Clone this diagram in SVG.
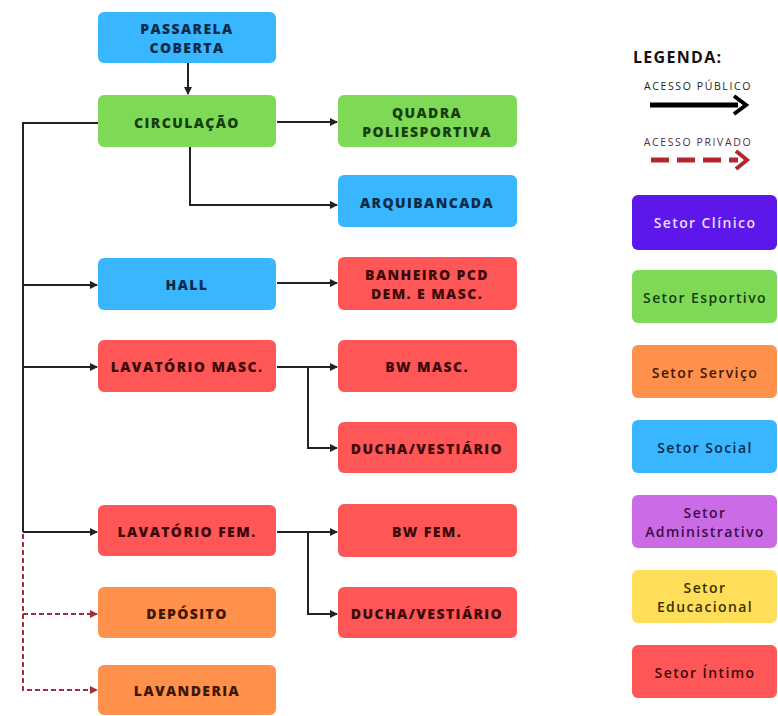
<svg xmlns="http://www.w3.org/2000/svg" width="778" height="716" viewBox="0 0 778 716">
<style>
.n{font-family:"Open Sans","Liberation Sans",sans-serif;font-weight:800;font-size:14px;letter-spacing:1.4px;text-anchor:middle;dominant-baseline:central}
.l{font-family:"Open Sans","Liberation Sans",sans-serif;font-size:14px;letter-spacing:1.4px;text-anchor:middle;dominant-baseline:central;font-weight:600}
.blue{fill:#38b6ff}.green{fill:#7ed957}.red{fill:#ff5757}.orange{fill:#ff914d}.purple{fill:#5e17eb}.violet{fill:#cb6ce6}.yellow{fill:#ffde59}
.tb{fill:#0b2a45}.tg{fill:#173d0c}.tr{fill:#3d0808}.to{fill:#3d1805}
.c{fill:none;stroke:#222;stroke-width:2}
.d{fill:none;stroke:#a3303f;stroke-width:2;stroke-dasharray:5 3}
.s{font-family:"Open Sans","Liberation Sans",sans-serif;font-size:10.5px;letter-spacing:1.6px;text-anchor:middle;dominant-baseline:central}
</style>
<defs>
<marker id="a" markerWidth="8" markerHeight="8" refX="7" refY="4" orient="auto" markerUnits="userSpaceOnUse"><path d="M0,0 L8,4 L0,8 z" fill="#222"/></marker>
<marker id="ad" markerWidth="8" markerHeight="8" refX="7" refY="4" orient="auto" markerUnits="userSpaceOnUse"><path d="M0,0 L8,4 L0,8 z" fill="#a3303f"/></marker>
</defs>
<rect width="778" height="716" fill="#fff"/>
<g id="connectors">
<path class="c" d="M188,63 V94" marker-end="url(#a)"/>
<path class="c" d="M98,123 H23 V532"/>
<path class="c" d="M277,122 H337" marker-end="url(#a)"/>
<path class="c" d="M190,147 V205 H337" marker-end="url(#a)"/>
<path class="c" d="M23,285 H97" marker-end="url(#a)"/>
<path class="c" d="M277,283 H337" marker-end="url(#a)"/>
<path class="c" d="M23,367 H97" marker-end="url(#a)"/>
<path class="c" d="M277,367 H337" marker-end="url(#a)"/>
<path class="c" d="M308,367 V448 H337" marker-end="url(#a)"/>
<path class="c" d="M23,532 H97" marker-end="url(#a)"/>
<path class="c" d="M277,532 H337" marker-end="url(#a)"/>
<path class="c" d="M308,532 V614 H337" marker-end="url(#a)"/>
<path class="d" d="M23,534 V690 H97" marker-end="url(#ad)"/>
<path class="d" d="M23,614 H97" marker-end="url(#ad)"/>
</g>
<g id="passarela"><rect class="blue" x="98" y="12" width="178" height="51" rx="6"/><text class="n tb" x="187" y="28">PASSARELA</text><text class="n tb" x="187" y="47">COBERTA</text></g>
<g id="circulacao"><rect class="green" x="98" y="95" width="178" height="52" rx="6"/><text class="n tg" x="187" y="122">CIRCULAÇÃO</text></g>
<g id="quadra"><rect class="green" x="338" y="95" width="179" height="52" rx="6"/><text class="n tg" x="427" y="112">QUADRA</text><text class="n tg" x="427" y="131">POLIESPORTIVA</text></g>
<g id="arquibancada"><rect class="blue" x="338" y="175" width="179" height="52" rx="6"/><text class="n tb" x="427" y="202">ARQUIBANCADA</text></g>
<g id="hall"><rect class="blue" x="98" y="258" width="178" height="52" rx="6"/><text class="n tb" x="187" y="284">HALL</text></g>
<g id="banheiro"><rect class="red" x="338" y="257" width="179" height="53" rx="6"/><text class="n tr" x="427" y="274">BANHEIRO PCD</text><text class="n tr" x="427" y="293">DEM. E MASC.</text></g>
<g id="lav-masc"><rect class="red" x="98" y="340" width="178" height="52" rx="6"/><text class="n tr" x="187" y="366" letter-spacing="0.6">LAVATÓRIO MASC.</text></g>
<g id="bw-masc"><rect class="red" x="338" y="340" width="179" height="52" rx="6"/><text class="n tr" x="427" y="366">BW MASC.</text></g>
<g id="ducha-masc"><rect class="red" x="338" y="422" width="179" height="51" rx="6"/><text class="n tr" x="427" y="448" letter-spacing="0.6">DUCHA/VESTIÁRIO</text></g>
<g id="lav-fem"><rect class="red" x="98" y="505" width="178" height="51" rx="6"/><text class="n tr" x="187" y="531">LAVATÓRIO FEM.</text></g>
<g id="bw-fem"><rect class="red" x="338" y="504" width="179" height="53" rx="6"/><text class="n tr" x="427" y="531">BW FEM.</text></g>
<g id="deposito"><rect class="orange" x="98" y="587" width="178" height="51" rx="6"/><text class="n to" x="187" y="613">DEPÓSITO</text></g>
<g id="ducha-fem"><rect class="red" x="338" y="587" width="179" height="51" rx="6"/><text class="n tr" x="427" y="613" letter-spacing="0.6">DUCHA/VESTIÁRIO</text></g>
<g id="lavanderia"><rect class="orange" x="98" y="665" width="178" height="50" rx="6"/><text class="n to" x="187" y="690">LAVANDERIA</text></g>
<g id="legenda">
<text x="633" y="57" font-family="'Open Sans','Liberation Sans',sans-serif" font-weight="bold" font-size="16" letter-spacing="1.3" fill="#111" dominant-baseline="central">LEGENDA:</text>
<text class="s" x="698" y="86" fill="#222">ACESSO PÚBLICO</text>
<path d="M650,105 H738" stroke="#000" stroke-width="5" fill="none"/>
<path d="M734,96 L746,105 L734,114" stroke="#000" stroke-width="4" fill="none" stroke-linejoin="miter"/>
<text class="s" x="698" y="142" fill="#553040">ACESSO PRIVADO</text>
<path d="M651,160 H738" stroke="#b3282d" stroke-width="5" fill="none" stroke-dasharray="18 8"/>
<path d="M736,151 L747,160 L736,169" stroke="#b3282d" stroke-width="4" fill="none"/>
</g>
<g id="setor-clinico"><rect class="purple" x="632" y="195" width="145" height="55" rx="6"/><text class="l" fill="#e8dcff" x="705" y="222">Setor Clínico</text></g>
<g id="setor-esportivo"><rect class="green" x="632" y="270" width="145" height="53" rx="6"/><text class="l tg" x="705" y="297" letter-spacing="0.6">Setor Esportivo</text></g>
<g id="setor-servico"><rect class="orange" x="632" y="345" width="145" height="53" rx="6"/><text class="l to" x="705" y="372">Setor Serviço</text></g>
<g id="setor-social"><rect class="blue" x="632" y="420" width="145" height="53" rx="6"/><text class="l tb" x="705" y="447">Setor Social</text></g>
<g id="setor-admin"><rect class="violet" x="632" y="495" width="145" height="53" rx="6"/><text class="l" fill="#3a0f45" x="705" y="512">Setor</text><text class="l" fill="#3a0f45" x="705" y="531" letter-spacing="0.4">Administrativo</text></g>
<g id="setor-educ"><rect class="yellow" x="632" y="570" width="145" height="53" rx="6"/><text class="l" fill="#3d3005" x="705" y="587">Setor</text><text class="l" fill="#3d3005" x="705" y="606">Educacional</text></g>
<g id="setor-intimo"><rect class="red" x="632" y="645" width="145" height="53" rx="6"/><text class="l tr" x="705" y="672">Setor Íntimo</text></g>
</svg>
